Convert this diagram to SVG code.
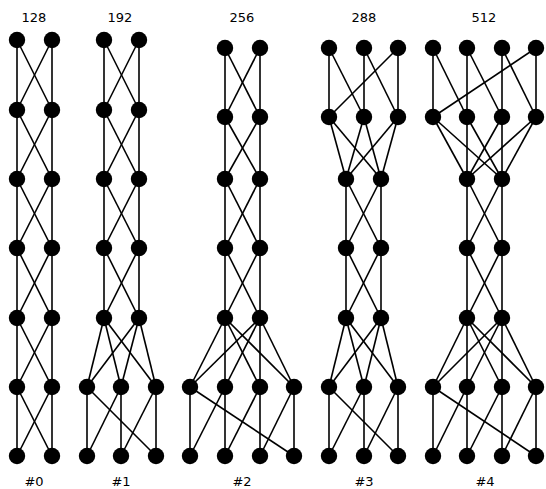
<svg xmlns="http://www.w3.org/2000/svg" width="546" height="489" viewBox="0 0 546 489">
<style>
.e line{stroke:#000;stroke-width:1.6;fill:none}
.n circle{fill:#000}
text{font-family:"DejaVu Sans",sans-serif;font-size:13px;fill:#000;text-anchor:middle}
</style>
<rect width="546" height="489" fill="#fff"/>
<g id="labels">
<text x="34" y="22">128</text><text x="120" y="22">192</text><text x="242" y="22">256</text><text x="364" y="22">288</text><text x="484" y="22">512</text>
<text x="34" y="486">#0</text><text x="121" y="486">#1</text><text x="242" y="486">#2</text><text x="364" y="486">#3</text><text x="485" y="486">#4</text>
</g>
<g id="connectors" class="e">
<!-- col0 -->
<line x1="17" y1="40" x2="17" y2="110"/><line x1="17" y1="40" x2="52" y2="110"/><line x1="52" y1="40" x2="17" y2="110"/><line x1="52" y1="40" x2="52" y2="110"/>
<line x1="17" y1="110" x2="17" y2="179"/><line x1="17" y1="110" x2="52" y2="179"/><line x1="52" y1="110" x2="17" y2="179"/><line x1="52" y1="110" x2="52" y2="179"/>
<line x1="17" y1="179" x2="17" y2="248"/><line x1="17" y1="179" x2="52" y2="248"/><line x1="52" y1="179" x2="17" y2="248"/><line x1="52" y1="179" x2="52" y2="248"/>
<line x1="17" y1="248" x2="17" y2="318"/><line x1="17" y1="248" x2="52" y2="318"/><line x1="52" y1="248" x2="17" y2="318"/><line x1="52" y1="248" x2="52" y2="318"/>
<line x1="17" y1="318" x2="17" y2="387"/><line x1="17" y1="318" x2="52" y2="387"/><line x1="52" y1="318" x2="17" y2="387"/><line x1="52" y1="318" x2="52" y2="387"/>
<line x1="17" y1="387" x2="17" y2="456"/><line x1="17" y1="387" x2="52" y2="456"/><line x1="52" y1="387" x2="17" y2="456"/><line x1="52" y1="387" x2="52" y2="456"/>
<!-- col1 -->
<line x1="104" y1="40" x2="104" y2="110"/><line x1="104" y1="40" x2="139" y2="110"/><line x1="139" y1="40" x2="104" y2="110"/><line x1="139" y1="40" x2="139" y2="110"/>
<line x1="104" y1="110" x2="104" y2="179"/><line x1="104" y1="110" x2="139" y2="179"/><line x1="139" y1="110" x2="104" y2="179"/><line x1="139" y1="110" x2="139" y2="179"/>
<line x1="104" y1="179" x2="104" y2="248"/><line x1="104" y1="179" x2="139" y2="248"/><line x1="139" y1="179" x2="104" y2="248"/><line x1="139" y1="179" x2="139" y2="248"/>
<line x1="104" y1="248" x2="104" y2="318"/><line x1="104" y1="248" x2="139" y2="318"/><line x1="139" y1="248" x2="104" y2="318"/><line x1="139" y1="248" x2="139" y2="318"/>
<line x1="104" y1="318" x2="87" y2="387"/><line x1="104" y1="318" x2="121" y2="387"/><line x1="104" y1="318" x2="156" y2="387"/>
<line x1="139" y1="318" x2="87" y2="387"/><line x1="139" y1="318" x2="121" y2="387"/><line x1="139" y1="318" x2="156" y2="387"/>
<line x1="87" y1="387" x2="87" y2="456"/><line x1="121" y1="387" x2="121" y2="456"/><line x1="156" y1="387" x2="156" y2="456"/>
<line x1="87" y1="387" x2="156" y2="456"/><line x1="121" y1="387" x2="87" y2="456"/><line x1="156" y1="387" x2="121" y2="456"/>
<!-- col2 -->
<line x1="225" y1="48" x2="225" y2="117"/><line x1="225" y1="48" x2="260" y2="117"/><line x1="260" y1="48" x2="225" y2="117"/><line x1="260" y1="48" x2="260" y2="117"/>
<line x1="225" y1="117" x2="225" y2="179"/><line x1="225" y1="117" x2="260" y2="179"/><line x1="260" y1="117" x2="225" y2="179"/><line x1="260" y1="117" x2="260" y2="179"/>
<line x1="225" y1="179" x2="225" y2="248"/><line x1="225" y1="179" x2="260" y2="248"/><line x1="260" y1="179" x2="225" y2="248"/><line x1="260" y1="179" x2="260" y2="248"/>
<line x1="225" y1="248" x2="225" y2="318"/><line x1="225" y1="248" x2="260" y2="318"/><line x1="260" y1="248" x2="225" y2="318"/><line x1="260" y1="248" x2="260" y2="318"/>
<line x1="225" y1="318" x2="190" y2="387"/><line x1="225" y1="318" x2="225" y2="387"/><line x1="225" y1="318" x2="260" y2="387"/><line x1="225" y1="318" x2="294" y2="387"/>
<line x1="260" y1="318" x2="190" y2="387"/><line x1="260" y1="318" x2="225" y2="387"/><line x1="260" y1="318" x2="260" y2="387"/><line x1="260" y1="318" x2="294" y2="387"/>
<line x1="190" y1="387" x2="190" y2="456"/><line x1="225" y1="387" x2="225" y2="456"/><line x1="260" y1="387" x2="260" y2="456"/><line x1="294" y1="387" x2="294" y2="456"/>
<line x1="190" y1="387" x2="294" y2="456"/><line x1="225" y1="387" x2="190" y2="456"/><line x1="260" y1="387" x2="225" y2="456"/><line x1="294" y1="387" x2="260" y2="456"/>
<!-- col3 -->
<line x1="329" y1="48" x2="329" y2="117"/><line x1="329" y1="48" x2="364" y2="117"/><line x1="364" y1="48" x2="364" y2="117"/><line x1="364" y1="48" x2="398" y2="117"/><line x1="398" y1="48" x2="398" y2="117"/><line x1="398" y1="48" x2="329" y2="117"/>
<line x1="329" y1="117" x2="346" y2="179"/><line x1="329" y1="117" x2="381" y2="179"/><line x1="364" y1="117" x2="346" y2="179"/><line x1="364" y1="117" x2="381" y2="179"/><line x1="398" y1="117" x2="346" y2="179"/><line x1="398" y1="117" x2="381" y2="179"/>
<line x1="346" y1="179" x2="346" y2="248"/><line x1="346" y1="179" x2="381" y2="248"/><line x1="381" y1="179" x2="346" y2="248"/><line x1="381" y1="179" x2="381" y2="248"/>
<line x1="346" y1="248" x2="346" y2="318"/><line x1="346" y1="248" x2="381" y2="318"/><line x1="381" y1="248" x2="346" y2="318"/><line x1="381" y1="248" x2="381" y2="318"/>
<line x1="346" y1="318" x2="329" y2="387"/><line x1="346" y1="318" x2="364" y2="387"/><line x1="346" y1="318" x2="398" y2="387"/>
<line x1="381" y1="318" x2="329" y2="387"/><line x1="381" y1="318" x2="364" y2="387"/><line x1="381" y1="318" x2="398" y2="387"/>
<line x1="329" y1="387" x2="329" y2="456"/><line x1="364" y1="387" x2="364" y2="456"/><line x1="398" y1="387" x2="398" y2="456"/>
<line x1="329" y1="387" x2="398" y2="456"/><line x1="364" y1="387" x2="329" y2="456"/><line x1="398" y1="387" x2="364" y2="456"/>
<!-- col4 -->
<line x1="433" y1="48" x2="433" y2="117"/><line x1="467" y1="48" x2="467" y2="117"/><line x1="502" y1="48" x2="502" y2="117"/><line x1="536" y1="48" x2="536" y2="117"/>
<line x1="433" y1="48" x2="467" y2="117"/><line x1="467" y1="48" x2="502" y2="117"/><line x1="502" y1="48" x2="536" y2="117"/><line x1="536" y1="48" x2="433" y2="117"/>
<line x1="433" y1="117" x2="467" y2="179"/><line x1="433" y1="117" x2="502" y2="179"/><line x1="467" y1="117" x2="467" y2="179"/><line x1="467" y1="117" x2="502" y2="179"/>
<line x1="502" y1="117" x2="467" y2="179"/><line x1="502" y1="117" x2="502" y2="179"/><line x1="536" y1="117" x2="467" y2="179"/><line x1="536" y1="117" x2="502" y2="179"/>
<line x1="467" y1="179" x2="467" y2="248"/><line x1="467" y1="179" x2="502" y2="248"/><line x1="502" y1="179" x2="467" y2="248"/><line x1="502" y1="179" x2="502" y2="248"/>
<line x1="467" y1="248" x2="467" y2="318"/><line x1="467" y1="248" x2="502" y2="318"/><line x1="502" y1="248" x2="467" y2="318"/><line x1="502" y1="248" x2="502" y2="318"/>
<line x1="467" y1="318" x2="433" y2="387"/><line x1="467" y1="318" x2="467" y2="387"/><line x1="467" y1="318" x2="502" y2="387"/><line x1="467" y1="318" x2="536" y2="387"/>
<line x1="502" y1="318" x2="433" y2="387"/><line x1="502" y1="318" x2="467" y2="387"/><line x1="502" y1="318" x2="502" y2="387"/><line x1="502" y1="318" x2="536" y2="387"/>
<line x1="433" y1="387" x2="433" y2="456"/><line x1="467" y1="387" x2="467" y2="456"/><line x1="502" y1="387" x2="502" y2="456"/><line x1="536" y1="387" x2="536" y2="456"/>
<line x1="433" y1="387" x2="536" y2="456"/><line x1="467" y1="387" x2="433" y2="456"/><line x1="502" y1="387" x2="467" y2="456"/><line x1="536" y1="387" x2="502" y2="456"/>
</g>
<g id="nodes" class="n">
<g id="g0"><circle cx="17" cy="40" r="8.2"/><circle cx="52" cy="40" r="8.2"/><circle cx="17" cy="110" r="8.2"/><circle cx="52" cy="110" r="8.2"/><circle cx="17" cy="179" r="8.2"/><circle cx="52" cy="179" r="8.2"/><circle cx="17" cy="248" r="8.2"/><circle cx="52" cy="248" r="8.2"/><circle cx="17" cy="318" r="8.2"/><circle cx="52" cy="318" r="8.2"/><circle cx="17" cy="387" r="8.2"/><circle cx="52" cy="387" r="8.2"/><circle cx="17" cy="456" r="8.2"/><circle cx="52" cy="456" r="8.2"/></g>
<g id="g1"><circle cx="104" cy="40" r="8.2"/><circle cx="139" cy="40" r="8.2"/><circle cx="104" cy="110" r="8.2"/><circle cx="139" cy="110" r="8.2"/><circle cx="104" cy="179" r="8.2"/><circle cx="139" cy="179" r="8.2"/><circle cx="104" cy="248" r="8.2"/><circle cx="139" cy="248" r="8.2"/><circle cx="104" cy="318" r="8.2"/><circle cx="139" cy="318" r="8.2"/><circle cx="87" cy="387" r="8.2"/><circle cx="121" cy="387" r="8.2"/><circle cx="156" cy="387" r="8.2"/><circle cx="87" cy="456" r="8.2"/><circle cx="121" cy="456" r="8.2"/><circle cx="156" cy="456" r="8.2"/></g>
<g id="g2"><circle cx="225" cy="48" r="8.2"/><circle cx="260" cy="48" r="8.2"/><circle cx="225" cy="117" r="8.2"/><circle cx="260" cy="117" r="8.2"/><circle cx="225" cy="179" r="8.2"/><circle cx="260" cy="179" r="8.2"/><circle cx="225" cy="248" r="8.2"/><circle cx="260" cy="248" r="8.2"/><circle cx="225" cy="318" r="8.2"/><circle cx="260" cy="318" r="8.2"/><circle cx="190" cy="387" r="8.2"/><circle cx="225" cy="387" r="8.2"/><circle cx="260" cy="387" r="8.2"/><circle cx="294" cy="387" r="8.2"/><circle cx="190" cy="456" r="8.2"/><circle cx="225" cy="456" r="8.2"/><circle cx="260" cy="456" r="8.2"/><circle cx="294" cy="456" r="8.2"/></g>
<g id="g3"><circle cx="329" cy="48" r="8.2"/><circle cx="364" cy="48" r="8.2"/><circle cx="398" cy="48" r="8.2"/><circle cx="329" cy="117" r="8.2"/><circle cx="364" cy="117" r="8.2"/><circle cx="398" cy="117" r="8.2"/><circle cx="346" cy="179" r="8.2"/><circle cx="381" cy="179" r="8.2"/><circle cx="346" cy="248" r="8.2"/><circle cx="381" cy="248" r="8.2"/><circle cx="346" cy="318" r="8.2"/><circle cx="381" cy="318" r="8.2"/><circle cx="329" cy="387" r="8.2"/><circle cx="364" cy="387" r="8.2"/><circle cx="398" cy="387" r="8.2"/><circle cx="329" cy="456" r="8.2"/><circle cx="364" cy="456" r="8.2"/><circle cx="398" cy="456" r="8.2"/></g>
<g id="g4"><circle cx="433" cy="48" r="8.2"/><circle cx="467" cy="48" r="8.2"/><circle cx="502" cy="48" r="8.2"/><circle cx="536" cy="48" r="8.2"/><circle cx="433" cy="117" r="8.2"/><circle cx="467" cy="117" r="8.2"/><circle cx="502" cy="117" r="8.2"/><circle cx="536" cy="117" r="8.2"/><circle cx="467" cy="179" r="8.2"/><circle cx="502" cy="179" r="8.2"/><circle cx="467" cy="248" r="8.2"/><circle cx="502" cy="248" r="8.2"/><circle cx="467" cy="318" r="8.2"/><circle cx="502" cy="318" r="8.2"/><circle cx="433" cy="387" r="8.2"/><circle cx="467" cy="387" r="8.2"/><circle cx="502" cy="387" r="8.2"/><circle cx="536" cy="387" r="8.2"/><circle cx="433" cy="456" r="8.2"/><circle cx="467" cy="456" r="8.2"/><circle cx="502" cy="456" r="8.2"/><circle cx="536" cy="456" r="8.2"/></g>
</g>
</svg>
